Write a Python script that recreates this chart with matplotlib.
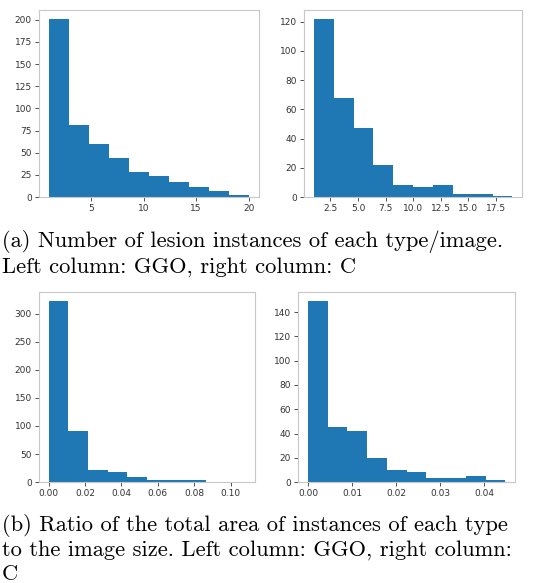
import matplotlib
matplotlib.use('Agg')
import matplotlib.pyplot as plt
import numpy as np

# Histogram counts and bin ranges (10 bins each)
ggo_count_vals = [201, 81, 60, 44, 28, 24, 17, 11, 7, 2]
ggo_count_range = (1, 20)
c_count_vals = [122, 68, 47, 22, 8, 7, 8, 2, 2, 1]
c_count_range = (1, 19)
ggo_area_vals = [322, 91, 22, 18, 9, 4, 4, 3, 1, 1]
ggo_area_range = (0.0, 0.108)
c_area_vals = [149, 45, 42, 20, 10, 8, 3, 3, 5, 2]
c_area_range = (0.0, 0.0448)

caption_a = ['(a) Number of lesion instances of each type/image.',
             'Left column: GGO, right column: C']
caption_b = ['(b) Ratio of the total area of instances of each type',
             'to the image size. Left column: GGO, right column:',
             'C']

bar_c = '#1f77b4'
spine_c = '#c8c8c8'
tick_c = '#333333'

fig = plt.figure(figsize=(5.39, 5.83), dpi=100)
fig.patch.set_facecolor('white')

panels = [
    ([0.072, 0.662, 0.408, 0.321], ggo_count_vals, ggo_count_range),
    ([0.564, 0.662, 0.405, 0.321], c_count_vals, c_count_range),
    ([0.072, 0.173, 0.401, 0.326], ggo_area_vals, ggo_area_range),
    ([0.553, 0.173, 0.403, 0.326], c_area_vals, c_area_range),
]

for rect, vals, rng in panels:
    ax = fig.add_axes(rect)
    edges = np.linspace(rng[0], rng[1], len(vals) + 1)
    ax.hist(edges[:-1], bins=edges, weights=vals, color=bar_c)
    for s in ax.spines.values():
        s.set_color(spine_c)
        s.set_linewidth(0.8)
    ax.tick_params(labelsize=6.5, colors=tick_c, length=3, width=0.6, pad=2)

# Captions (LaTeX-looking serif)
cap_kw = dict(fontsize=16.2, family='cmr10', ha='left', va='baseline', color='black')
for i, line in enumerate(caption_a):
    fig.text(0.004, 1 - (247 + 26 * i) / 583, line, **cap_kw)
for i, line in enumerate(caption_b):
    fig.text(0.004, 1 - (531 + 24.5 * i) / 583, line, **cap_kw)

fig.savefig('out.png', dpi=100, facecolor='white')
